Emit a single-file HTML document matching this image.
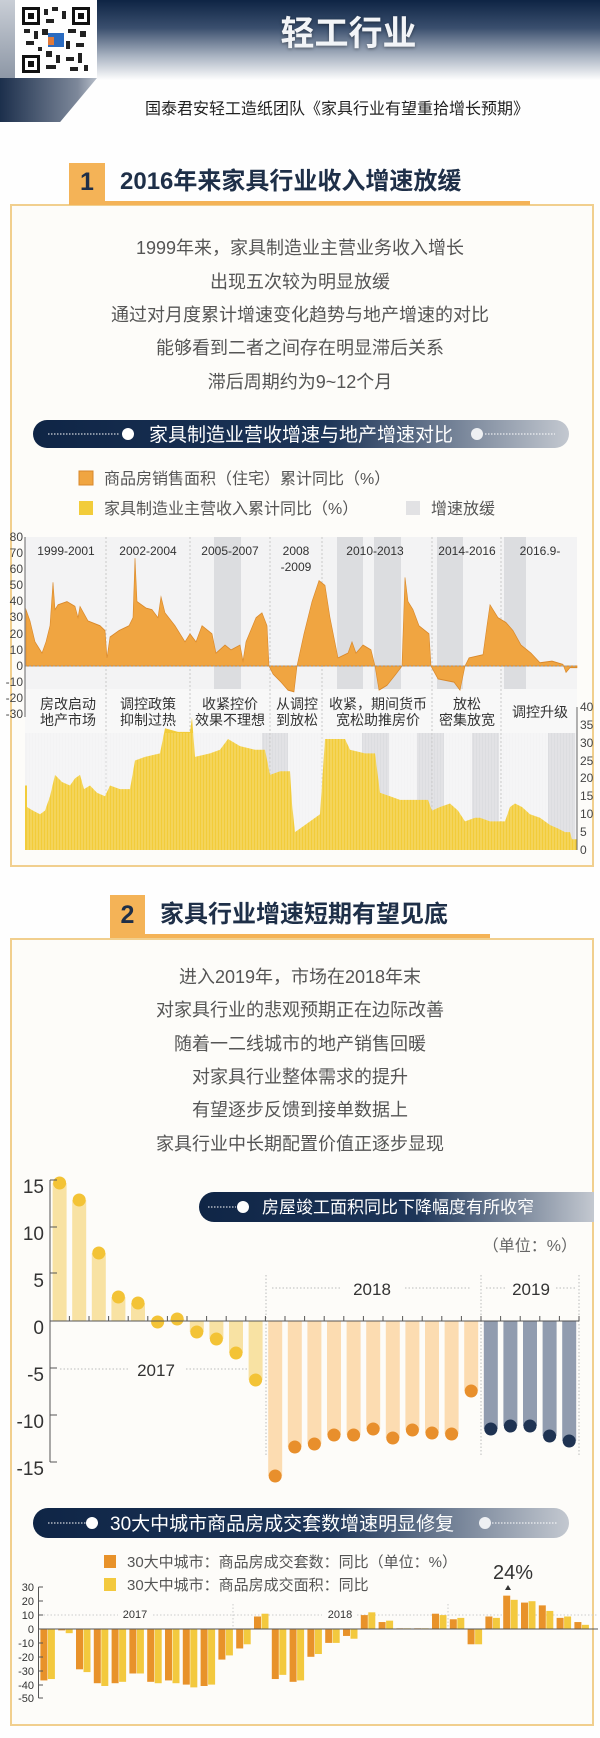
<!DOCTYPE html>
<html><head><meta charset="utf-8">
<style>
*{margin:0;padding:0;box-sizing:border-box}
body{width:600px;height:1738px;position:relative;background:#fefefe;font-family:"Liberation Sans","Noto Sans CJK SC",sans-serif;overflow:hidden}
.abs{position:absolute}
.box{position:absolute;left:10px;width:584px;border:2px solid #f1cf8e;background:#fdfcf9}
.p{position:absolute;left:0;width:600px;text-align:center;color:#555;font-size:18px;line-height:20px}
.pill{position:absolute;border-radius:16px;background:linear-gradient(90deg,#0f2546 0%,#1d3558 55%,#c3c8d0 100%)}
</style></head><body>
<!-- header -->
<div class="abs" style="left:97px;top:0;width:503px;height:80px;background:linear-gradient(180deg,#0e2444 0%,#3a4f6e 35%,#a9b3c2 70%,#fefefe 100%)"></div>
<div class="abs" style="left:0;top:0;width:16px;height:80px;background:linear-gradient(180deg,#c9ced6,#8c96a5);clip-path:polygon(0 0,100% 0,100% 100%,0 100%)"></div>
<div class="abs" style="left:0;top:78px;width:97px;height:44px;background:linear-gradient(90deg,#1c2f4c,#7d889a 80%,#b8bfca);clip-path:polygon(0 0,100% 0,62% 100%,0 100%)"></div>
<div class="abs" style="left:15px;top:0;width:82px;height:78px;background:#fff"></div>
<svg class="abs" style="left:22px;top:7px" width="68" height="66" viewBox="0 0 68 66">
<rect x="0" y="0" width="18" height="18" fill="#111"/><rect x="3" y="3" width="12" height="12" fill="#fff"/><rect x="6" y="6" width="6" height="6" fill="#111"/>
<rect x="50" y="0" width="18" height="18" fill="#111"/><rect x="53" y="3" width="12" height="12" fill="#fff"/><rect x="56" y="6" width="6" height="6" fill="#111"/>
<rect x="0" y="48" width="18" height="18" fill="#111"/><rect x="3" y="51" width="12" height="12" fill="#fff"/><rect x="6" y="54" width="6" height="6" fill="#111"/>
<g fill="#222"><rect x="22" y="2" width="4" height="6"/><rect x="30" y="0" width="6" height="4"/><rect x="40" y="4" width="4" height="8"/><rect x="24" y="12" width="8" height="4"/><rect x="2" y="22" width="6" height="4"/><rect x="12" y="24" width="4" height="8"/><rect x="20" y="22" width="6" height="6"/><rect x="46" y="22" width="8" height="4"/><rect x="58" y="24" width="6" height="6"/><rect x="4" y="34" width="8" height="4"/><rect x="44" y="34" width="4" height="8"/><rect x="54" y="36" width="8" height="4"/><rect x="24" y="44" width="6" height="6"/><rect x="34" y="48" width="4" height="8"/><rect x="44" y="50" width="8" height="4"/><rect x="56" y="46" width="4" height="10"/><rect x="24" y="58" width="10" height="4"/><rect x="48" y="60" width="8" height="4"/><rect x="62" y="58" width="4" height="6"/><rect x="16" y="40" width="4" height="4"/></g>
<rect x="26" y="26" width="16" height="14" fill="#2a6bc0"/><rect x="26" y="30" width="6" height="8" fill="#e07a3a"/>
</svg>
<div class="abs" style="left:97px;top:14px;width:503px;text-align:center;font-size:34px;font-weight:bold;color:#f2f4f7;line-height:40px;text-shadow:0 1px 3px rgba(0,0,0,.4)">轻工行业</div>
<div class="abs" style="left:112px;top:99px;width:450px;text-align:center;font-size:16px;color:#222;line-height:22px;white-space:nowrap">国泰君安轻工造纸团队《家具行业有望重拾增长预期》</div>

<!-- section 1 -->
<div class="box" style="top:204px;height:663px"></div>
<div class="abs" style="left:69px;top:163px;width:36px;height:42px;background:#f4b357"></div>
<div class="abs" style="left:69px;top:201px;width:461px;height:4px;background:#f4b357"></div>
<div class="abs" style="left:69px;top:166px;width:36px;text-align:center;font-size:25px;font-weight:bold;color:#1e2f48;line-height:32px">1</div>
<div class="abs" style="left:120px;top:166px;font-size:24px;font-weight:bold;color:#1e2f48;line-height:32px;white-space:nowrap">2016年来家具行业收入增速放缓</div>
<div class="p" style="top:238px">1999年来，家具制造业主营业务收入增长</div>
<div class="p" style="top:272px">出现五次较为明显放缓</div>
<div class="p" style="top:305px">通过对月度累计增速变化趋势与地产增速的对比</div>
<div class="p" style="top:338px">能够看到二者之间存在明显滞后关系</div>
<div class="p" style="top:372px">滞后周期约为9~12个月</div>
<div class="pill" style="left:33px;top:420px;width:536px;height:28px"></div>

<!-- section 2 -->
<div class="box" style="top:938px;height:788px"></div>
<div class="abs" style="left:110px;top:895px;width:35px;height:43px;background:#f4b357"></div>
<div class="abs" style="left:110px;top:934px;width:380px;height:4px;background:#f4b357"></div>
<div class="abs" style="left:110px;top:899px;width:35px;text-align:center;font-size:25px;font-weight:bold;color:#1e2f48;line-height:32px">2</div>
<div class="abs" style="left:160px;top:899px;font-size:24px;font-weight:bold;color:#1e2f48;line-height:32px;white-space:nowrap">家具行业增速短期有望见底</div>
<div class="p" style="top:967px">进入2019年，市场在2018年末</div>
<div class="p" style="top:1000px">对家具行业的悲观预期正在边际改善</div>
<div class="p" style="top:1034px">随着一二线城市的地产销售回暖</div>
<div class="p" style="top:1067px">对家具行业整体需求的提升</div>
<div class="p" style="top:1100px">有望逐步反馈到接单数据上</div>
<div class="p" style="top:1134px">家具行业中长期配置价值正逐步显现</div>
<div class="pill" style="left:199px;top:1192px;width:395px;height:30px;border-radius:15px 0 0 15px"></div>
<div class="pill" style="left:33px;top:1508px;width:536px;height:30px"></div>

<svg class="abs" style="left:0;top:0" width="600" height="1738" font-family="Liberation Sans, Noto Sans CJK SC, sans-serif">
<!-- pill 1 contents -->
<line x1="48" y1="434" x2="120" y2="434" stroke="#fff" stroke-dasharray="1.5 1.5"/>
<circle cx="128" cy="434" r="6" fill="#fff"/>
<text x="301" y="441" text-anchor="middle" font-size="19" fill="#fff">家具制造业营收增速与地产增速对比</text>
<circle cx="477" cy="434" r="6" fill="#eef0f3"/>
<line x1="485" y1="434" x2="555" y2="434" stroke="#fff" stroke-dasharray="1.5 1.5"/>
<!-- legend 1 -->
<rect x="79" y="471" width="14" height="14" fill="#f0a541" stroke="#d9882a"/>
<text x="104" y="484" font-size="16" fill="#555">商品房销售面积（住宅）累计同比（%）</text>
<rect x="79" y="501" width="14" height="14" fill="#f2cc3a"/>
<text x="104" y="514" font-size="16" fill="#555">家具制造业主营收入累计同比（%）</text>
<rect x="406" y="501" width="14" height="14" fill="#e2e2e4"/>
<text x="431" y="514" font-size="16" fill="#555">增速放缓</text>
<!-- chart1 backgrounds -->
<rect x="25" y="537" width="552" height="152" fill="#f3f3f4"/>
<rect x="25" y="689" width="552" height="44" fill="#f8f8f8"/>
<rect x="25" y="733" width="552" height="117" fill="#f3f3f4"/>
<g fill="#dcdde0">
<rect x="214" y="537" width="27" height="152"/><rect x="337" y="537" width="26" height="152"/><rect x="374" y="537" width="27" height="152"/><rect x="437" y="537" width="26" height="152"/><rect x="504" y="537" width="22" height="152"/>
<rect x="262" y="733" width="26" height="117"/><rect x="362" y="733" width="27" height="117"/><rect x="417" y="733" width="27" height="117"/><rect x="472" y="733" width="27" height="117"/><rect x="548" y="733" width="27" height="117"/>
</g>
<g stroke="#c8c8c8" stroke-dasharray="2 2"><line x1="106" y1="537" x2="106" y2="850"/><line x1="190" y1="537" x2="190" y2="850"/><line x1="270" y1="537" x2="270" y2="850"/><line x1="322" y1="537" x2="322" y2="850"/><line x1="432" y1="537" x2="432" y2="850"/><line x1="501" y1="537" x2="501" y2="850"/></g>
<g transform="translate(0,850) scale(1,-3.58)">
<polygon fill="#f2cc3a" points="25,0 25,18 27,18 27,12 33,11 40,10 45,11 50,15 55,21 62,19 70,18 75,20 80,21 84,17 90,18 97,16 105,15 110,18 120,17 130,17 135,25 145,26 160,27 165,34 178,33 190,33 192,37 195,26 210,27 220,28 228,31 240,29 255,28 265,28 270,21 280,22 290,22 292,13 295,5 305,7 320,10 325,31 335,31 345,31 350,28 365,27 375,27 380,16 390,15 400,14 410,14 420,14 428,14 432,11 440,12 450,13 458,11 465,8 475,9 480,9 490,8 505,8 510,12 515,13 522,12 530,10 540,9 550,7 558,6 565,5 570,5 572,3 577,3 577,0"/>
</g>
<g stroke="#fff" stroke-width="0.6" opacity="0.55">
<path d="M28 733V850M31 733V850M34 733V850M37 733V850M40 733V850M43 733V850M46 733V850M49 733V850M52 733V850M55 733V850M58 733V850M61 733V850M64 733V850M67 733V850M70 733V850M73 733V850M76 733V850M79 733V850M82 733V850M85 733V850M88 733V850M91 733V850M94 733V850M97 733V850M100 733V850M103 733V850M106 733V850M109 733V850M112 733V850M115 733V850M118 733V850M121 733V850M124 733V850M127 733V850M130 733V850M133 733V850M136 733V850M139 733V850M142 733V850M145 733V850M148 733V850M151 733V850M154 733V850M157 733V850M160 733V850M163 733V850M166 733V850M169 733V850M172 733V850M175 733V850M178 733V850M181 733V850M184 733V850M187 733V850M190 733V850M193 733V850M196 733V850M199 733V850M202 733V850M205 733V850M208 733V850M211 733V850M214 733V850M217 733V850M220 733V850M223 733V850M226 733V850M229 733V850M232 733V850M235 733V850M238 733V850M241 733V850M244 733V850M247 733V850M250 733V850M253 733V850M256 733V850M259 733V850M262 733V850M265 733V850M268 733V850M271 733V850M274 733V850M277 733V850M280 733V850M283 733V850M286 733V850M289 733V850M292 733V850M295 733V850M298 733V850M301 733V850M304 733V850M307 733V850M310 733V850M313 733V850M316 733V850M319 733V850M322 733V850M325 733V850M328 733V850M331 733V850M334 733V850M337 733V850M340 733V850M343 733V850M346 733V850M349 733V850M352 733V850M355 733V850M358 733V850M361 733V850M364 733V850M367 733V850M370 733V850M373 733V850M376 733V850M379 733V850M382 733V850M385 733V850M388 733V850M391 733V850M394 733V850M397 733V850M400 733V850M403 733V850M406 733V850M409 733V850M412 733V850M415 733V850M418 733V850M421 733V850M424 733V850M427 733V850M430 733V850M433 733V850M436 733V850M439 733V850M442 733V850M445 733V850M448 733V850M451 733V850M454 733V850M457 733V850M460 733V850M463 733V850M466 733V850M469 733V850M472 733V850M475 733V850M478 733V850M481 733V850M484 733V850M487 733V850M490 733V850M493 733V850M496 733V850M499 733V850M502 733V850M505 733V850M508 733V850M511 733V850M514 733V850M517 733V850M520 733V850M523 733V850M526 733V850M529 733V850M532 733V850M535 733V850M538 733V850M541 733V850M544 733V850M547 733V850M550 733V850M553 733V850M556 733V850M559 733V850M562 733V850M565 733V850M568 733V850M571 733V850M574 733V850"/>
</g>
<g transform="translate(0,666) scale(1,-1.61)">
<polygon fill="#f0a541" stroke="#d9882a" stroke-width="0.6" points="26,0 26,35 30,28 35,15 40,10 42,8 46,15 50,25 53,52 55,35 58,38 67,40 75,37 78,30 80,37 88,28 100,25 105,22 107,5 110,18 119,22 129,25 133,30 135,67 137,40 146,36 152,35 158,30 161,43 165,33 175,25 185,15 190,20 196,15 202,25 212,20 216,8 225,13 231,10 240,13 243,3 246,15 256,30 262,33 267,25 269,0 273,-5 281,-10 288,-15 294,-16 297,0 304,20 312,40 319,53 325,50 330,30 338,5 348,8 352,15 356,8 363,13 371,10 375,0 379,-15 387,-12 396,-5 402,0 405,55 408,40 413,35 419,25 429,20 431,0 438,-8 454,-10 460,-15 465,0 469,5 483,7 487,25 490,38 498,30 506,27 513,22 521,13 531,8 540,2 552,3 563,1 566,-4 570,-1 577,-1 577,0"/>
</g>
<line x1="25" y1="666" x2="577" y2="666" stroke="#999" stroke-dasharray="2 2"/>
<line x1="25" y1="537" x2="25" y2="717" stroke="#666"/>
<g font-size="12" fill="#444" text-anchor="end">
<text x="23" y="541">80</text><text x="23" y="557">70</text><text x="23" y="573">60</text><text x="23" y="589">50</text><text x="23" y="605">40</text><text x="23" y="621">30</text><text x="23" y="638">20</text><text x="23" y="654">10</text><text x="23" y="670">0</text><text x="23" y="686">-10</text><text x="23" y="702">-20</text><text x="23" y="718">-30</text>
</g>
<line x1="577" y1="707" x2="577" y2="850" stroke="#666"/>
<g font-size="12" fill="#444">
<text x="580" y="711">40</text><text x="580" y="729">35</text><text x="580" y="747">30</text><text x="580" y="765">25</text><text x="580" y="782">20</text><text x="580" y="800">15</text><text x="580" y="818">10</text><text x="580" y="836">5</text><text x="580" y="854">0</text>
</g>
<g font-size="12" fill="#333" text-anchor="middle">
<text x="66" y="555">1999-2001</text><text x="148" y="555">2002-2004</text><text x="230" y="555">2005-2007</text><text x="296" y="555">2008</text><text x="296" y="571">-2009</text><text x="375" y="555">2010-2013</text><text x="467" y="555">2014-2016</text><text x="540" y="555">2016.9-</text>
</g>
<g font-size="14" fill="#333" text-anchor="middle">
<text x="68" y="709">房改启动</text><text x="68" y="725">地产市场</text>
<text x="148" y="709">调控政策</text><text x="148" y="725">抑制过热</text>
<text x="230" y="709">收紧控价</text><text x="230" y="725">效果不理想</text>
<text x="297" y="709">从调控</text><text x="297" y="725">到放松</text>
<text x="378" y="709">收紧，期间货币</text><text x="378" y="725">宽松助推房价</text>
<text x="467" y="709">放松</text><text x="467" y="725">密集放宽</text>
<text x="540" y="717">调控升级</text>
</g>

<!-- chart 2 -->
<line x1="208" y1="1207" x2="236" y2="1207" stroke="#fff" stroke-dasharray="1.5 1.5"/>
<circle cx="243" cy="1207" r="6" fill="#fff"/>
<text x="262" y="1213" font-size="17" fill="#fff">房屋竣工面积同比下降幅度有所收窄</text>
<text x="577" y="1251" font-size="16" fill="#666" text-anchor="end">（单位：%）</text>
<g stroke="#bbb" stroke-dasharray="1.5 2">
<line x1="266" y1="1275" x2="266" y2="1457"/><line x1="481" y1="1275" x2="481" y2="1457"/><line x1="579" y1="1275" x2="579" y2="1457"/>
<line x1="272" y1="1288" x2="340" y2="1288"/><line x1="405" y1="1288" x2="470" y2="1288"/><line x1="486" y1="1288" x2="507" y2="1288"/><line x1="556" y1="1288" x2="576" y2="1288"/>
<line x1="60" y1="1369" x2="128" y2="1369"/><line x1="186" y1="1369" x2="262" y2="1369"/>
</g>
<text x="372" y="1295" font-size="17" fill="#333" text-anchor="middle">2018</text>
<text x="531" y="1295" font-size="17" fill="#333" text-anchor="middle">2019</text>
<text x="156" y="1376" font-size="17" fill="#333" text-anchor="middle">2017</text>
<g fill="#f8e2a3">
<rect x="52.6" y="1183" width="14" height="138"/><rect x="72.2" y="1200" width="14" height="121"/><rect x="91.8" y="1253" width="14" height="68"/><rect x="111.4" y="1297" width="14" height="24"/><rect x="131" y="1303" width="14" height="18"/><rect x="150.6" y="1321" width="14" height="1"/><rect x="170.2" y="1319" width="14" height="2"/><rect x="189.8" y="1321" width="14" height="11"/><rect x="209.4" y="1321" width="14" height="18"/><rect x="229" y="1321" width="14" height="32"/><rect x="248.6" y="1321" width="14" height="59"/>
</g>
<g fill="#fcdcb1">
<rect x="268.2" y="1321" width="14" height="155"/><rect x="287.8" y="1321" width="14" height="126"/><rect x="307.4" y="1321" width="14" height="123"/><rect x="327" y="1321" width="14" height="114"/><rect x="346.6" y="1321" width="14" height="114"/><rect x="366.2" y="1321" width="14" height="108"/><rect x="385.8" y="1321" width="14" height="117"/><rect x="405.4" y="1321" width="14" height="109"/><rect x="425" y="1321" width="14" height="112"/><rect x="444.6" y="1321" width="14" height="113"/><rect x="464.2" y="1321" width="14" height="70"/>
</g>
<g fill="#919caf">
<rect x="483.8" y="1321" width="14" height="108"/><rect x="503.4" y="1321" width="14" height="105"/><rect x="523" y="1321" width="14" height="105"/><rect x="542.6" y="1321" width="14" height="115"/><rect x="562.2" y="1321" width="14" height="120"/>
</g>
<g fill="#f3c336">
<circle cx="59.6" cy="1183" r="6.5"/><circle cx="79.2" cy="1200" r="6.5"/><circle cx="98.8" cy="1253" r="6.5"/><circle cx="118.4" cy="1297" r="6.5"/><circle cx="138" cy="1303" r="6.5"/><circle cx="157.6" cy="1322" r="6.5"/><circle cx="177.2" cy="1319" r="6.5"/><circle cx="196.8" cy="1332" r="6.5"/><circle cx="216.4" cy="1339" r="6.5"/><circle cx="236" cy="1353" r="6.5"/><circle cx="255.6" cy="1380" r="6.5"/>
</g>
<g fill="#e88f2c">
<circle cx="275.2" cy="1476" r="6.5"/><circle cx="294.8" cy="1447" r="6.5"/><circle cx="314.4" cy="1444" r="6.5"/><circle cx="334" cy="1435" r="6.5"/><circle cx="353.6" cy="1435" r="6.5"/><circle cx="373.2" cy="1429" r="6.5"/><circle cx="392.8" cy="1438" r="6.5"/><circle cx="412.4" cy="1430" r="6.5"/><circle cx="432" cy="1433" r="6.5"/><circle cx="451.6" cy="1434" r="6.5"/><circle cx="471.2" cy="1391" r="6.5"/>
</g>
<g fill="#1f3352">
<circle cx="490.8" cy="1429" r="6.5"/><circle cx="510.4" cy="1426" r="6.5"/><circle cx="530" cy="1426" r="6.5"/><circle cx="549.6" cy="1436" r="6.5"/><circle cx="569.2" cy="1441" r="6.5"/>
</g>
<line x1="50" y1="1321" x2="579" y2="1321" stroke="#555"/>
<path d="M69.4 1316V1321M89 1316V1321M108.6 1316V1321M128.2 1316V1321M147.8 1316V1321M167.4 1316V1321M187 1316V1321M206.6 1316V1321M226.2 1316V1321M245.8 1316V1321M265.4 1316V1321M285 1316V1321M304.6 1316V1321M324.2 1316V1321M343.8 1316V1321M363.4 1316V1321M383 1316V1321M402.6 1316V1321M422.2 1316V1321M441.8 1316V1321M461.4 1316V1321M481 1316V1321M500.6 1316V1321M520.2 1316V1321M539.8 1316V1321M559.4 1316V1321M579 1316V1321" stroke="#555"/>
<path d="M50 1180V1462M50 1180H57M50 1227H57M50 1273H57M50 1368H57M50 1415H57M50 1462H57" stroke="#555" fill="none"/>
<g font-size="19" fill="#333" text-anchor="end">
<text x="44" y="1193">15</text><text x="44" y="1240">10</text><text x="44" y="1287">5</text><text x="44" y="1334">0</text><text x="44" y="1381">-5</text><text x="44" y="1428">-10</text><text x="44" y="1475">-15</text>
</g>

<!-- pill 3 contents -->
<line x1="48" y1="1523" x2="86" y2="1523" stroke="#fff" stroke-dasharray="1.5 1.5"/>
<circle cx="92" cy="1523" r="6" fill="#fff"/>
<text x="110" y="1530" font-size="19" fill="#fff">30大中城市商品房成交套数增速明显修复</text>
<circle cx="485" cy="1523" r="6" fill="#eef0f3"/>
<line x1="492" y1="1523" x2="558" y2="1523" stroke="#fff" stroke-dasharray="1.5 1.5"/>
<rect x="104" y="1555" width="12" height="13" fill="#e8922a"/>
<text x="127" y="1567" font-size="15" fill="#555">30大中城市：商品房成交套数：同比（单位：%）</text>
<rect x="104" y="1578" width="12" height="13" fill="#f3c93e"/>
<text x="127" y="1590" font-size="15" fill="#555">30大中城市：商品房成交面积：同比</text>
<text x="513" y="1579" font-size="20" fill="#333" text-anchor="middle">24%</text>
<polygon points="505,1590 511,1590 508,1585" fill="#333"/>
<g stroke="#ccc" stroke-dasharray="1.5 2">
<line x1="40" y1="1615" x2="118" y2="1615"/><line x1="153" y1="1615" x2="322" y2="1615"/><line x1="357" y1="1615" x2="598" y2="1615"/>
<line x1="233" y1="1604" x2="233" y2="1629"/><line x1="448" y1="1604" x2="448" y2="1629"/>
</g>
<text x="135" y="1618" font-size="11" fill="#333" text-anchor="middle">2017</text>
<text x="340" y="1618" font-size="11" fill="#333" text-anchor="middle">2018</text>
<g transform="translate(0,1629) scale(1,-1.39)">
<g fill="#e8922a">
<rect x="40.4" y="-37" width="7" height="37"/><rect x="58.2" y="-1" width="7" height="1"/><rect x="76" y="-29" width="7" height="29"/><rect x="93.8" y="-39" width="7" height="39"/><rect x="111.6" y="-39" width="7" height="39"/><rect x="129.4" y="-32" width="7" height="32"/><rect x="147.2" y="-38" width="7" height="38"/><rect x="165" y="-37" width="7" height="37"/><rect x="182.8" y="-40" width="7" height="40"/><rect x="200.6" y="-41" width="7" height="41"/><rect x="218.4" y="-22" width="7" height="22"/><rect x="236.2" y="-14" width="7" height="14"/><rect x="254" y="0" width="7" height="9"/><rect x="271.8" y="-36" width="7" height="36"/><rect x="289.6" y="-38" width="7" height="38"/><rect x="307.4" y="-20" width="7" height="20"/><rect x="325.2" y="-10" width="7" height="10"/><rect x="343" y="-5" width="7" height="5"/><rect x="360.8" y="0" width="7" height="10"/><rect x="378.6" y="0" width="7" height="5"/><rect x="396.4" y="0" width="7" height="0.5"/><rect x="414.2" y="0" width="7" height="0.5"/><rect x="432" y="0" width="7" height="11"/><rect x="449.8" y="0" width="7" height="7"/><rect x="467.6" y="-11" width="7" height="11"/><rect x="485.4" y="0" width="7" height="9"/><rect x="503.2" y="0" width="7" height="24"/><rect x="521" y="0" width="7" height="19"/><rect x="538.8" y="0" width="7" height="17"/><rect x="556.6" y="0" width="7" height="8"/><rect x="574.4" y="0" width="7" height="5"/>
</g>
<g fill="#f3c93e">
<rect x="47.9" y="-36" width="7" height="36"/><rect x="65.7" y="-3" width="7" height="3"/><rect x="83.5" y="-31" width="7" height="31"/><rect x="101.3" y="-41" width="7" height="41"/><rect x="119.1" y="-38" width="7" height="38"/><rect x="136.9" y="-32" width="7" height="32"/><rect x="154.7" y="-39" width="7" height="39"/><rect x="172.5" y="-39" width="7" height="39"/><rect x="190.3" y="-42" width="7" height="42"/><rect x="208.1" y="-40" width="7" height="40"/><rect x="225.9" y="-19" width="7" height="19"/><rect x="243.7" y="-11" width="7" height="11"/><rect x="261.5" y="0" width="7" height="11"/><rect x="279.3" y="-33" width="7" height="33"/><rect x="297.1" y="-37" width="7" height="37"/><rect x="314.9" y="-18" width="7" height="18"/><rect x="332.7" y="-10" width="7" height="10"/><rect x="350.5" y="-7" width="7" height="7"/><rect x="368.3" y="0" width="7" height="12"/><rect x="386.1" y="0" width="7" height="6"/><rect x="403.9" y="0" width="7" height="0.5"/><rect x="421.7" y="0" width="7" height="0.5"/><rect x="439.5" y="0" width="7" height="10"/><rect x="457.3" y="0" width="7" height="8"/><rect x="475.1" y="-11" width="7" height="11"/><rect x="492.9" y="0" width="7" height="8"/><rect x="510.7" y="0" width="7" height="21"/><rect x="528.5" y="0" width="7" height="20"/><rect x="546.3" y="0" width="7" height="13"/><rect x="564.1" y="0" width="7" height="9"/><rect x="581.9" y="0" width="7" height="3"/>
</g>
</g>
<line x1="38" y1="1629" x2="598" y2="1629" stroke="#555"/>
<path d="M38.5 1587V1698M38.5 1587H43M38.5 1601H43M38.5 1615H43M38.5 1643H43M38.5 1657H43M38.5 1671H43M38.5 1685H43M38.5 1698H43" stroke="#555" fill="none"/>
<g font-size="11" fill="#333" text-anchor="end">
<text x="34" y="1591">30</text><text x="34" y="1605">20</text><text x="34" y="1619">10</text><text x="34" y="1633">0</text><text x="34" y="1647">-10</text><text x="34" y="1661">-20</text><text x="34" y="1675">-30</text><text x="34" y="1689">-40</text><text x="34" y="1702">-50</text>
</g>
</svg>
</body></html>
